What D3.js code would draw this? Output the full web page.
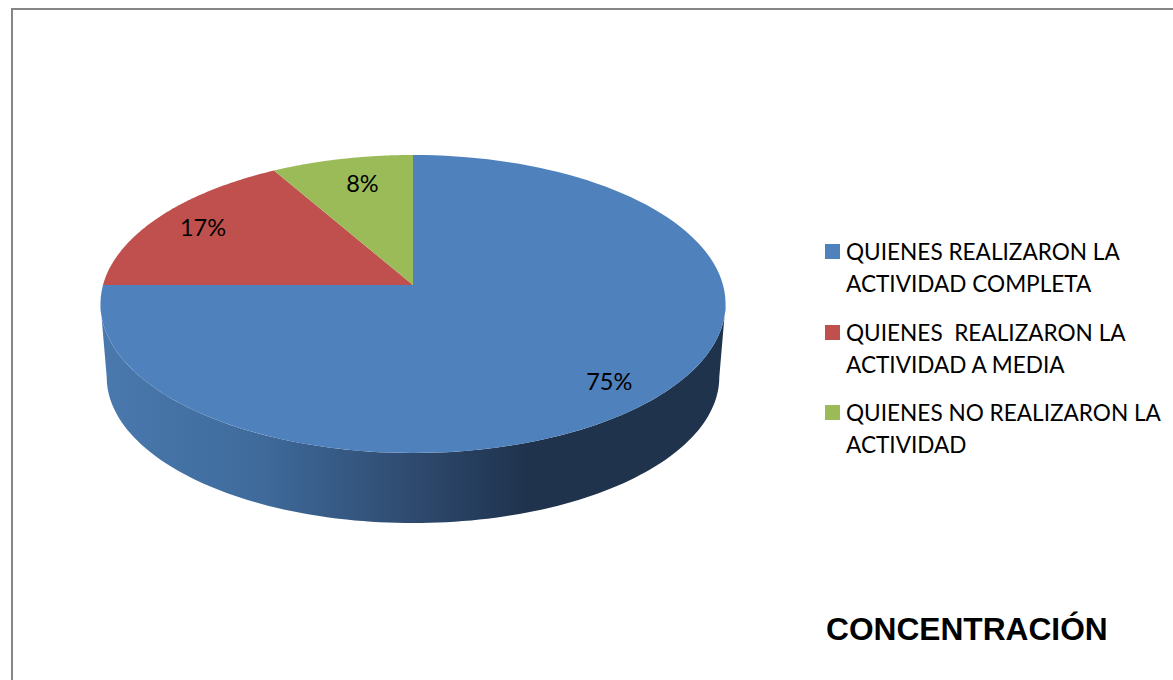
<!DOCTYPE html>
<html><head><meta charset="utf-8">
<script src="https://cdn.jsdelivr.net/npm/d3@7"></script>
<style>html,body{margin:0;padding:0;background:#fff}svg{display:block}</style></head>
<body><svg id="c" width="1173" height="680"></svg>
<script>
const categories = ["QUIENES REALIZARON LA|ACTIVIDAD COMPLETA","QUIENES  REALIZARON LA|ACTIVIDAD A MEDIA","QUIENES NO REALIZARON LA|ACTIVIDAD"];
const values = [75, 16.7, 8.3];
const colors = ["#4f81bd","#c0504d","#9bbb59"];
const title = "CONCENTRACIÓN";

const svg = d3.select("#c");
svg.append("rect").attr("x",12).attr("y",9).attr("width",1300).attr("height",800)
  .attr("fill","#fff").attr("stroke","#868686").attr("stroke-width",2);

// perspective projection of the pie disc
const ax=413, ay=285, a=310, b=146.6, k=0.1275;
const proj=(phi,r=1,s=1,dy=0)=>{
  const u=r*Math.sin(phi), v=r*Math.cos(phi), d=1+k*v;
  return [ax+s*a*u/d, ay+dy-s*b*v/d];
};
const sample=(a0,a1,f)=>d3.range(0,121).map(i=>f(a0+(a1-a0)*i/120));
const line=d3.line();

const defs=svg.append("defs");
const g=defs.append("linearGradient").attr("id","wall").attr("gradientUnits","userSpaceOnUse")
  .attr("x1",100).attr("x2",725).attr("y1",0).attr("y2",0);
[[0,"#4a79ae"],[.25,"#3f6b9c"],[.48,"#304d73"],[.68,"#1f334d"],[1,"#1f334d"]]
  .forEach(([o,c])=>g.append("stop").attr("offset",o).attr("stop-color",c));

const ext=Math.acos(-k);
const topFront=sample(ext,2*Math.PI-ext,p=>proj(p));
const botFront=sample(2*Math.PI-ext,ext,p=>proj(p,1,0.98,73.4));
svg.append("path").attr("d",line(topFront.concat(botFront))+"Z").attr("fill","url(#wall)");

const arcs=d3.pie().sort(null).value(d=>d)(values);
svg.selectAll("path.slice").data(arcs).join("path").attr("class","slice")
  .attr("fill",(d,i)=>colors[i])
  .attr("d",d=>line([[ax,ay]].concat(sample(d.startAngle,d.endAngle,p=>proj(p))))+"Z");

const labelR=[0.85,0.83,0.76], labelDx=[-5.5,1.5,5], labelDy=[10,9,5];
const fmt=d3.format(".0%"), total=d3.sum(values);
svg.selectAll("text.pct").data(arcs).join("text").attr("class","pct")
  .attr("x",(d,i)=>proj((d.startAngle+d.endAngle)/2,labelR[i])[0]+labelDx[i])
  .attr("y",(d,i)=>proj((d.startAngle+d.endAngle)/2,labelR[i])[1]+labelDy[i])
  .attr("text-anchor","middle").attr("font-family","Lato").attr("font-size",23.5).attr("fill","#000")
  .text(d=>fmt(d.value/total));

const legY=d3.scalePoint().domain(d3.range(categories.length)).range([244,405]);
const leg=svg.selectAll("g.leg").data(categories).join("g").attr("class","leg")
  .attr("transform",(d,i)=>`translate(825,${Math.round(legY(i))})`);
leg.append("rect").attr("width",15).attr("height",15).attr("fill",(d,i)=>colors[i]);
leg.append("text").attr("font-family","Lato").attr("font-size",22.6).attr("fill","#000")
  .style("white-space","pre")
  .selectAll("tspan").data(d=>d.split("|")).join("tspan")
  .attr("x",21).attr("y",(d,i)=>16+i*31.5).text(d=>d);

svg.append("text").attr("x",826).attr("y",640).attr("font-family","Liberation Sans")
  .attr("font-weight","bold").attr("font-size",31.7).attr("fill","#000").text(title);
</script></body></html>
